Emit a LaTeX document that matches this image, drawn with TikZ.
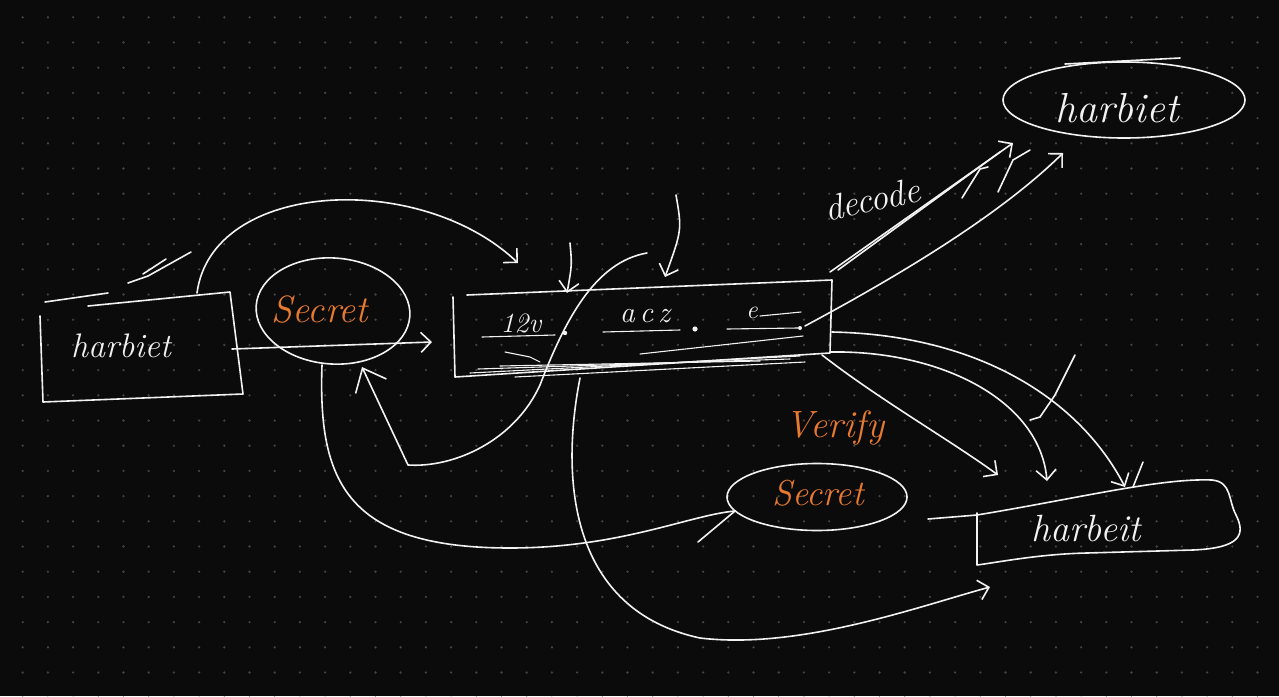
\documentclass[tikz,border=0pt]{standalone}
\usetikzlibrary{arrows.meta,shapes.geometric}
\definecolor{bg}{RGB}{11,11,11}
\definecolor{gridc}{RGB}{66,66,66}
\definecolor{inkc}{RGB}{242,242,242}
\definecolor{orng}{RGB}{232,122,48}
\begin{document}
\begin{tikzpicture}[x=1pt,y=-1pt,
  pen/.style={draw=inkc,line width=1.6pt,line cap=round,line join=round},
  thin/.style={draw=inkc,line width=1.1pt,line cap=round,line join=round},
  tip/.style={-{Straight Barb[length=10pt,width=20pt]}},
  bigtip/.style={-{Straight Barb[length=20pt,width=34pt]}},
  hand/.style={font=\fontsize{#1}{#1}\selectfont\itshape,inner sep=0pt},
]
% background and dot grid
\fill[bg] (0,0) rectangle (1279,696);
\useasboundingbox (0,0) rectangle (1279,696);
\foreach \i in {0,...,50}{\foreach \j in {0,...,27}{\fill[gridc] ({22.7+25.2*\i},{17.3+25.2*\j}) circle (1.3);}}

% ---------- left box ----------
\draw[pen] (88,306) -- (230,292) -- (243,394) -- (43,402) -- (40,316);
\draw[pen] (45,302) -- (108,293);
\node[hand=34,text=inkc] (lbox) at (121,346) {harbiet};
\draw[pen] (128,283) -- (148,276) -- (191,252);
\draw[pen] (143,274) -- (166,259);

% ---------- left secret ----------
\node[pen,ellipse,minimum width=154pt,minimum height=106pt,inner sep=0pt,rotate=-4] (lsec) at (333,311) {};
\node[hand=38,text=orng] (lsect) at (320,310) {Secret};

% ---------- middle box ----------
\draw[pen] (467,295) -- (832,280) -- (830,353) -- (455,377) -- (453,297);
\draw[thin] (470,373) -- (800,356);
\draw[thin] (478,369) -- (790,359);
\draw[thin] (500,366) -- (760,361);
\draw[thin] (515,377) -- (805,362);
\draw[thin] (803,336) -- (640,354);
\draw[thin] (505,352) -- (530,357) -- (540,362);
\node[hand=28,text=inkc] (t1) at (521,323) {12v};
\draw[thin] (482,337) -- (555,335);
\fill[inkc] (565,333) circle (2.2);
\node[hand=30,text=inkc] (t2) at (645,316) {a\,c\,z};
\draw[thin] (603,332) -- (680,330);
\fill[inkc] (695,329) circle (2.6);
\node[hand=26,text=inkc] (t3) at (752,313) {e};
\draw[thin] (760,316) -- (801,312);
\draw[thin] (727,329) -- (798,328);
\fill[inkc] (800,328) circle (2);

% ---------- verify secret ----------
\node[pen,ellipse,minimum width=180pt,minimum height=67pt,inner sep=0pt] (vsec) at (817,497) {};
\node[hand=36,text=orng] (vsect) at (818,493) {Secret};
\node[hand=38,text=orng] (vlab) at (835,428) {Verify};

% ---------- top right ellipse ----------
\node[pen,ellipse,minimum width=242pt,minimum height=76pt,inner sep=0pt] (tr) at (1124,100) {};
\node[hand=42,text=inkc] (trt) at (1117,108) {harbiet};
\draw[pen] (1065,64) -- (1180,58);
\node[hand=36,text=inkc,rotate=12] (dec) at (872,199) {decode};

% ---------- bottom right box ----------
\draw[pen] (928,519) -- (977,515) .. controls (1080,498) and (1160,478) .. (1212,480)
  .. controls (1232,482) and (1228,500) .. (1236,515) .. controls (1246,535) and (1240,548) .. (1193,550)
  -- (1087,553) .. controls (1040,554) and (1000,562) .. (977,565) -- (977,513);
\node[hand=38,text=inkc] (rbox) at (1086,528) {harbeit};

% ---------- connectors ----------
\coordinate (a1) at (197,293); \coordinate (a1e) at (518,263);
\draw[pen,tip] (a1) .. controls (212,180) and (420,170) .. (a1e);

\coordinate (b1) at (232,349); \coordinate (b1e) at (432,342);
\draw[pen,tip] (b1) -- (b1e);

\coordinate (d1s) at (570,243); \coordinate (d1e) at (567,293);
\draw[pen,tip] (d1s) .. controls (572,265) .. (d1e);
\coordinate (d2s) at (676,195); \coordinate (d2e) at (665,277);
\draw[pen,tip] (d2s) .. controls (682,230) .. (d2e);

\coordinate (c1s) at (647,253); \coordinate (c1m) at (408,465); \coordinate (c1e) at (362,367);
\draw[pen,bigtip] (c1s) .. controls (595,262) and (565,320) .. (540,385)
  .. controls (515,440) and (455,468) .. (c1m) -- (c1e);

\coordinate (e1s) at (322,365); \coordinate (e1e) at (735,511);
\draw[pen] (e1s) .. controls (318,480) and (345,548) .. (510,548) .. controls (620,548) and (690,515) .. (e1e);
\draw[pen] (698,542) -- (e1e);

\coordinate (f1s) at (580,378); \coordinate (f1e) at (990,587);
\draw[pen,tip] (f1s) .. controls (560,480) and (570,610) .. (700,638) .. controls (800,650) and (920,606) .. (f1e);

\coordinate (g1s) at (822,355); \coordinate (g1e) at (998,475);
\draw[pen,tip] (g1s) .. controls (880,400) and (950,440) .. (g1e);
\coordinate (g2s) at (830,352); \coordinate (g2e) at (1047,481);
\draw[pen,tip] (g2s) .. controls (940,350) and (1040,400) .. (g2e);
\coordinate (g3s) at (832,332); \coordinate (g3e) at (1125,487);
\draw[pen,tip] (g3s) .. controls (980,335) and (1080,400) .. (g3e);
\draw[pen] (1133,487) -- (1143,462);
\draw[pen] (1075,355) -- (1055,395) -- (1040,417) -- (1030,420);

\coordinate (h1s) at (830,272); \coordinate (h1e) at (1013,143);
\draw[pen,tip] (h1s) -- (h1e);
\draw[pen] (838,270) -- (1000,152);
\draw[pen] (962,198) -- (980,169) -- (988,167);
\draw[pen] (998,192) -- (1013,160) -- (1030,150);
\coordinate (h2s) at (805,326); \coordinate (h2e) at (1063,153);
\draw[pen,tip] (h2s) .. controls (900,275) and (1000,215) .. (h2e);
\end{tikzpicture}
\end{document}
